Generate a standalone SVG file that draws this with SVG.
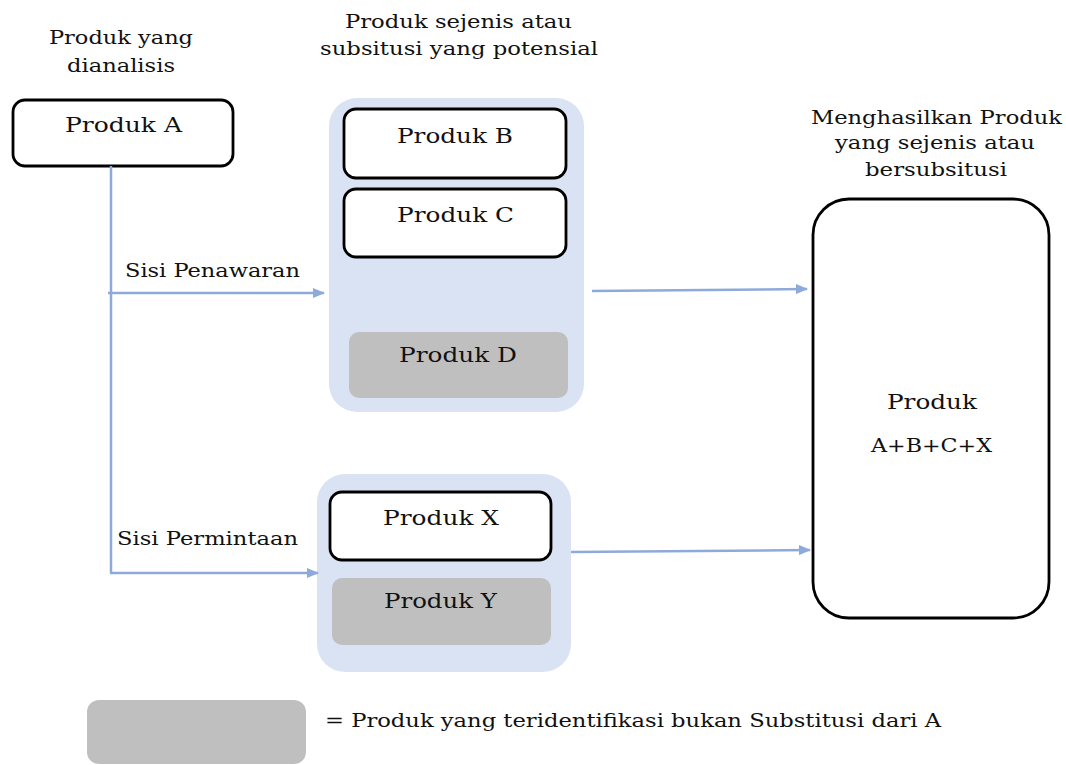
<svg xmlns="http://www.w3.org/2000/svg" width="1066" height="765" viewBox="0 0 1066 765">
<style>
text{font-family:"DejaVu Serif","Liberation Serif",serif;fill:#111}
.h{font-size:18px}
.l{font-size:20px}
.m{font-size:18px}
.box{fill:#fff;stroke:#000;stroke-width:2.8}
.grey{fill:#bfbfbf}
.cont{fill:#dae3f3}
.conn{fill:none;stroke:#8eaadb;stroke-width:2.5}
</style>
<defs>
<marker id="arr" markerUnits="userSpaceOnUse" markerWidth="12" markerHeight="10" refX="11" refY="5" orient="auto">
<path d="M0,0 L12,5 L0,10 z" fill="#8eaadb"/>
</marker>
</defs>
<rect width="1066" height="765" fill="#fff"/>

<g id="headers">
<text class="h" x="49" y="44" textLength="144" lengthAdjust="spacingAndGlyphs">Produk yang</text>
<text class="h" x="67" y="72" textLength="108" lengthAdjust="spacingAndGlyphs">dianalisis</text>
<text class="m" x="345" y="28" textLength="227" lengthAdjust="spacingAndGlyphs">Produk sejenis atau</text>
<text class="m" x="320" y="55" textLength="278" lengthAdjust="spacingAndGlyphs">subsitusi yang potensial</text>
<text class="m" x="811" y="124" textLength="251" lengthAdjust="spacingAndGlyphs">Menghasilkan Produk</text>
<text class="m" x="835" y="149" textLength="200" lengthAdjust="spacingAndGlyphs">yang sejenis atau</text>
<text class="m" x="865" y="176" textLength="142" lengthAdjust="spacingAndGlyphs">bersubsitusi</text>
</g>

<g id="container-upper"><rect class="cont" x="329" y="98" width="255" height="314" rx="28"/></g>
<g id="container-lower"><rect class="cont" x="317" y="474" width="254" height="198" rx="28"/></g>

<g id="node-a">
<rect class="box" x="13" y="100" width="220" height="66" rx="12"/>
<text class="l" x="65" y="132" textLength="117" lengthAdjust="spacingAndGlyphs">Produk A</text>
</g>
<g id="node-b">
<rect class="box" x="344" y="109" width="222" height="69" rx="12"/>
<text class="l" x="397" y="143" textLength="116" lengthAdjust="spacingAndGlyphs">Produk B</text>
</g>
<g id="node-c">
<rect class="box" x="344" y="189" width="222" height="68" rx="12"/>
<text class="l" x="397" y="222" textLength="117" lengthAdjust="spacingAndGlyphs">Produk C</text>
</g>
<g id="node-d">
<rect class="grey" x="349" y="332" width="219" height="66" rx="10"/>
<text class="l" x="399" y="362" textLength="118" lengthAdjust="spacingAndGlyphs">Produk D</text>
</g>
<g id="node-x">
<rect class="box" x="330" y="492" width="221" height="68" rx="12"/>
<text class="l" x="383" y="525" textLength="116" lengthAdjust="spacingAndGlyphs">Produk X</text>
</g>
<g id="node-y">
<rect class="grey" x="332" y="578" width="219" height="67" rx="10"/>
<text class="l" x="384" y="608" textLength="113" lengthAdjust="spacingAndGlyphs">Produk Y</text>
</g>
<g id="node-result">
<rect class="box" x="813" y="199" width="236" height="419" rx="36"/>
<text class="l" x="887" y="409" textLength="90" lengthAdjust="spacingAndGlyphs">Produk</text>
<text class="m" x="871" y="452" textLength="121" lengthAdjust="spacingAndGlyphs">A+B+C+X</text>
</g>

<g id="connectors">
<path class="conn" d="M111,166 V573"/>
<path class="conn" d="M108,293 H324" marker-end="url(#arr)"/>
<path class="conn" d="M110,573 H318" marker-end="url(#arr)"/>
<path class="conn" d="M592,291 L807,289" marker-end="url(#arr)"/>
<path class="conn" d="M571,552 L810,550" marker-end="url(#arr)"/>
<text class="m" x="125" y="277" textLength="175" lengthAdjust="spacingAndGlyphs">Sisi Penawaran</text>
<text class="m" x="117" y="545" textLength="181" lengthAdjust="spacingAndGlyphs">Sisi Permintaan</text>
</g>

<g id="legend">
<rect class="grey" x="87" y="700" width="219" height="64" rx="12"/>
<text class="m" x="325" y="727" textLength="616" lengthAdjust="spacingAndGlyphs">= Produk yang teridentifikasi bukan Substitusi dari A</text>
</g>
</svg>
